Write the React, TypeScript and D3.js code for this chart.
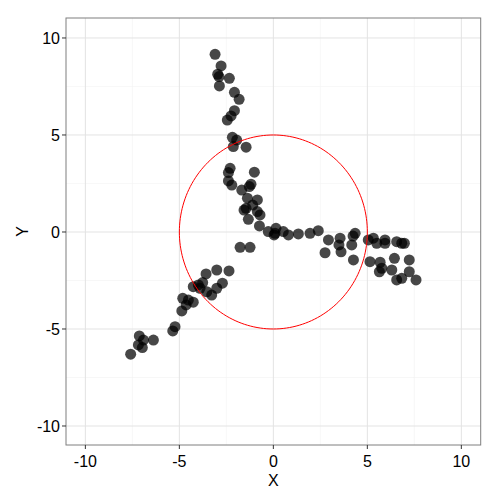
import React from "react";
import * as d3 from "d3";

const xs: number[] = [
  -3.10, -2.78, -2.96, -2.89, -2.87, -2.34, -2.07, -1.82, -2.07, -2.25, -2.45, -2.18, -1.95, -1.45, -2.13,
  -2.30, -2.39, -1.01, -2.39, -2.21, -1.68, -1.19, -1.28, -1.38, -0.85, -1.56, -1.45, -1.10, -1.33, -0.85,
  -0.71, -0.74, -0.27, 0.04, 0.14, -1.77, -1.24,
  0.09, 0.53, 0.80, 1.33, 1.95, 2.39, 2.93, 3.55, 2.75, 3.60, 4.35, 4.17, 4.26, 4.24, 3.49,
  5.05, 5.32, 5.50, 5.94, 5.94, 6.56, 6.97, 6.83, 5.14, 5.68, 5.77, 5.64, 6.30, 6.44, 7.23, 7.23, 6.83, 6.56, 7.59,
  -3.58, -3.01, -2.36, -4.26, -3.99, -3.76, -3.90, -3.54, -3.28, -3.01, -2.71, -4.82, -4.52, -4.26, -4.64,
  -4.87, -5.23, -5.35, -7.13, -6.91, -6.38, -7.18, -6.97, -7.59,
];
const ys: number[] = [
  9.16, 8.56, 8.13, 8.01, 7.53, 7.92, 7.20, 6.84, 6.25, 5.98, 5.77, 4.88, 4.74, 4.37, 4.40,
  3.28, 3.06, 3.08, 2.63, 2.42, 2.16, 2.46, 2.34, 1.74, 1.65, 1.13, 1.22, 1.39, 0.65, 1.05,
  0.88, 0.31, 0.02, -0.15, 0.19, -0.79, -0.79,
  -0.07, 0.02, -0.15, -0.10, -0.07, 0.07, -0.41, -0.32, -1.07, -1.02, -0.07, -0.67, -1.44, -0.21, -0.67,
  -0.41, -0.32, -0.58, -0.41, -0.58, -0.50, -0.58, -0.58, -1.53, -1.56, -1.87, -2.05, -1.96, -1.36, -1.44, -2.05, -2.39, -2.47, -2.47,
  -2.16, -1.96, -2.01, -2.82, -2.73, -2.61, -2.90, -3.08, -3.25, -2.90, -2.64, -3.42, -3.51, -3.62, -3.76,
  -4.07, -4.88, -5.10, -5.36, -5.57, -5.57, -5.82, -5.96, -6.30,
];

const majorTicks = [-10, -5, 0, 5, 10];
const minorTicks = [-7.5, -2.5, 2.5, 7.5];
const circleRadius = 5;
const xTitle = "X";
const yTitle = "Y";

export default function App() {
  const W = 500, H = 500;
  const left = 66, right = 480.7, top = 18, bottom = 445;
  const x = d3.scaleLinear().domain([-11.03, 11.03]).range([left, right]);
  const y = d3.scaleLinear().domain([-10.98, 11.03]).range([bottom, top]);

  const angles = d3.range(0, 361, 2).map((a) => (a * Math.PI) / 180);
  const circlePath = d3
    .line<number>()
    .x((a) => x(circleRadius * Math.cos(a)))
    .y((a) => y(circleRadius * Math.sin(a)))(angles) as string;

  const font = "'Liberation Sans', Arial, sans-serif";

  return (
    <svg width={W} height={H} style={{ position: "absolute", left: 0, top: 0 }}>
      <rect x={0} y={0} width={W} height={H} fill="white" />
      {minorTicks.map((t) => (
        <g key={"mn" + t}>
          <line x1={x(t)} x2={x(t)} y1={top} y2={bottom} stroke="#f2f2f2" strokeWidth={0.6} />
          <line x1={left} x2={right} y1={y(t)} y2={y(t)} stroke="#f2f2f2" strokeWidth={0.6} />
        </g>
      ))}
      {majorTicks.map((t) => (
        <g key={"mj" + t}>
          <line x1={x(t)} x2={x(t)} y1={top} y2={bottom} stroke="#e3e3e3" strokeWidth={1} />
          <line x1={left} x2={right} y1={y(t)} y2={y(t)} stroke="#e3e3e3" strokeWidth={1} />
        </g>
      ))}
      {xs.map((v, i) => (
        <circle key={i} cx={x(v)} cy={y(ys[i])} r={5.5} fill="black" fillOpacity={0.72} />
      ))}
      <path d={circlePath} fill="none" stroke="red" strokeWidth={1} />
      <rect x={left} y={top} width={right - left} height={bottom - top} fill="none" stroke="#7f7f7f" strokeWidth={1} />
      {majorTicks.map((t) => (
        <g key={"xt" + t}>
          <line x1={x(t)} x2={x(t)} y1={bottom} y2={bottom + 4} stroke="#333" strokeWidth={1} />
          <text x={x(t)} y={467} textAnchor="middle" fontSize={16} fontFamily={font} fill="black">
            {t}
          </text>
        </g>
      ))}
      {majorTicks.map((t) => (
        <g key={"yt" + t}>
          <line x1={left - 4} x2={left} y1={y(t)} y2={y(t)} stroke="#333" strokeWidth={1} />
          <text x={60} y={y(t)} dy="0.36em" textAnchor="end" fontSize={16} fontFamily={font} fill="black">
            {t}
          </text>
        </g>
      ))}
      <text x={(left + right) / 2} y={486} textAnchor="middle" fontSize={16} fontFamily={font} fill="black">
        {xTitle}
      </text>
      <text
        transform={`translate(28, ${(top + bottom) / 2}) rotate(-90)`}
        textAnchor="middle"
        fontSize={16}
        fontFamily={font}
        fill="black"
      >
        {yTitle}
      </text>
    </svg>
  );
}
